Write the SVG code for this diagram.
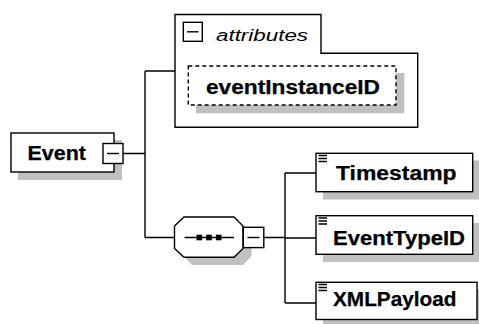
<svg xmlns="http://www.w3.org/2000/svg" width="479" height="324" viewBox="0 0 479 324">
  <style>
    .box { fill: #ffffff; stroke: #000000; stroke-width: 1.4; }
    .shadow { fill: #c0c0c0; stroke: none; }
    .dash { fill: #ffffff; stroke: #000000; stroke-width: 1.4; stroke-dasharray: 4 3; }
    .wire { fill: none; stroke: #000000; stroke-width: 1.4; }
    .name { font-family: "Liberation Sans", Arial, sans-serif; font-weight: bold; font-size: 19.5px; fill: #000000; stroke: #000000; stroke-width: 0.25; }
    .label { font-family: "Liberation Sans", Arial, sans-serif; font-style: italic; font-size: 16px; fill: #000000; }
    .tog { fill: #ffffff; stroke: #000000; stroke-width: 1.4; }
  </style>
  <rect width="479" height="324" fill="#ffffff"/>

  <!-- connectors -->
  <g id="connectors">
    <path class="wire" d="M123,153.5 H145 M145,71 V237.5 M145,71 H175 M145,237.5 H174.5"/>
    <path class="wire" d="M264,237.5 H285 M285,173 V303 M285,173 H316 M285,238 H316 M285,303 H316"/>
  </g>

  <!-- root element -->
  <g id="event">
    <rect class="shadow" x="18" y="140" width="104" height="40"/>
    <rect class="box" x="11" y="133" width="103" height="39"/>
    <text class="name" x="27.5" y="160" textLength="58.5" lengthAdjust="spacingAndGlyphs">Event</text>
    <rect class="tog" x="103" y="143.5" width="20" height="20"/>
    <line class="wire" x1="107" y1="153.5" x2="119" y2="153.5"/>
  </g>

  <!-- attribute group -->
  <g id="attributes">
    <path class="box" d="M175,14.5 H321 V53.3 H417.7 V127.3 H175 Z"/>
    <rect class="tog" x="183.3" y="22.3" width="19" height="19"/>
    <line class="wire" x1="187" y1="31.8" x2="198.5" y2="31.8"/>
    <text class="label" x="216" y="40.5" textLength="92" lengthAdjust="spacingAndGlyphs">attributes</text>
  </g>

  <g id="eventInstanceID">
    <rect class="shadow" x="196" y="73" width="208.3" height="40.3"/>
    <rect class="dash" x="188.3" y="66" width="207.7" height="39"/>
    <text class="name" x="206" y="93.5" font-size="17.5" textLength="174" lengthAdjust="spacingAndGlyphs">eventInstanceID</text>
  </g>

  <!-- sequence compositor -->
  <g id="sequence">
    <path class="shadow" d="M183.5,225 H243 L251.5,233.5 V256 L243,265 H192 L183.5,256 Z"/>
    <path class="box" d="M184,217 H234 L243,226 V248.5 L234,257.3 H184 L174.5,248.5 V226 Z"/>
    <line class="wire" x1="184.5" y1="237.5" x2="234" y2="237.5"/>
    <rect x="196.5" y="234.7" width="5.6" height="5.6" fill="#000000"/>
    <rect x="206.2" y="234.7" width="5.6" height="5.6" fill="#000000"/>
    <rect x="215.9" y="234.7" width="5.6" height="5.6" fill="#000000"/>
    <rect class="tog" x="243.3" y="227.3" width="20.5" height="20.3"/>
    <line class="wire" x1="247.5" y1="237.5" x2="259.5" y2="237.5"/>
  </g>

  <!-- child elements -->
  <g id="timestamp">
    <rect class="shadow" x="323" y="160.5" width="157" height="39"/>
    <rect class="box" x="316" y="153.3" width="156.7" height="38.4"/>
    <path class="wire" d="M318.5,155.5 H327 M318.5,158.5 H327 M318.5,161.5 H327" stroke-width="1.3"/>
    <text class="name" x="336" y="179.5" textLength="120.5" lengthAdjust="spacingAndGlyphs">Timestamp</text>
  </g>

  <g id="eventTypeID">
    <rect class="shadow" x="323" y="223" width="157" height="39"/>
    <rect class="box" x="316" y="215.7" width="156.7" height="38.6"/>
    <path class="wire" d="M318.5,218 H327 M318.5,221 H327 M318.5,224 H327" stroke-width="1.3"/>
    <text class="name" x="333" y="244.5" textLength="132" lengthAdjust="spacingAndGlyphs">EventTypeID</text>
  </g>

  <g id="xmlPayload">
    <rect class="shadow" x="323" y="289.5" width="161" height="40"/>
    <rect class="box" x="316" y="282.3" width="161" height="37.2"/>
    <path class="wire" d="M318.5,284.5 H327 M318.5,287.5 H327 M318.5,290.5 H327" stroke-width="1.3"/>
    <text class="name" x="333" y="306" textLength="123.5" lengthAdjust="spacingAndGlyphs">XMLPayload</text>
  </g>
</svg>
